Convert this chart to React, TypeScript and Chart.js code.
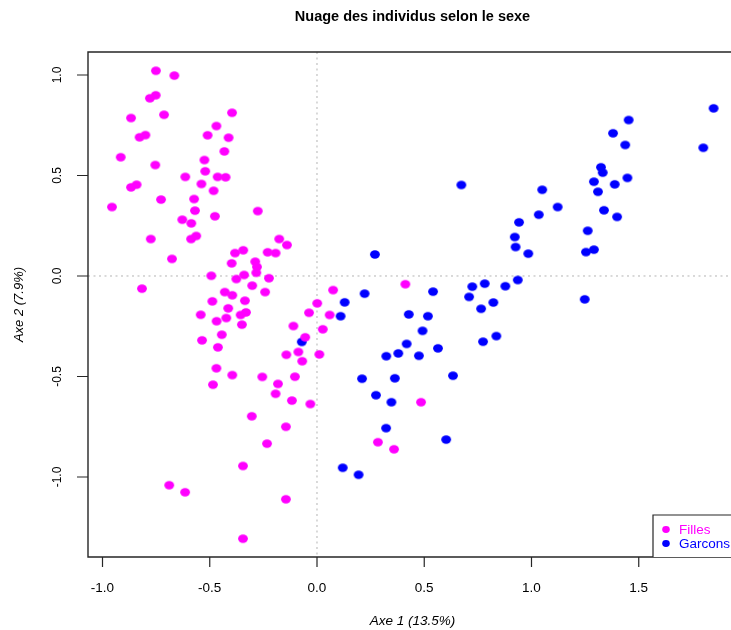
import React, { useEffect, useRef } from "react";
import { Chart, registerables } from "chart.js";
Chart.register(...registerables);

const chartTitle = "Nuage des individus selon le sexe";
const xAxisTitle = "Axe 1 (13.5%)";
const yAxisTitle = "Axe 2 (7.9%)";
const legendLabels = ["Filles", "Garcons"];
const xTicks = [-1.0, -0.5, 0.0, 0.5, 1.0, 1.5];
const xTickLabels = ["-1.0", "-0.5", "0.0", "0.5", "1.0", "1.5"];
const yTicks = [-1.0, -0.5, 0.0, 0.5, 1.0];
const yTickLabels = ["-1.0", "-0.5", "0.0", "0.5", "1.0"];

const fillesX = [
  -0.751, -0.665, -0.779, -0.752, -0.867, -0.713, -0.396, -0.469, -0.51, -0.412,
  -0.827, -0.8, -0.915, -0.432, -0.525, -0.754, -0.521, -0.614, -0.463, -0.426,
  -0.539, -0.867, -0.841, -0.482, -0.956, -0.727, -0.573, -0.569, -0.276, -0.476,
  -0.628, -0.586, -0.775, -0.587, -0.563, -0.176, -0.14, -0.676, -0.382, -0.344,
  -0.23, -0.193, -0.398, -0.288, -0.28, -0.283, -0.493, -0.34, -0.376, -0.224,
  -0.816, -0.302, -0.43, -0.395, -0.242,
  -0.488, -0.336, -0.414, -0.542, -0.468, -0.423, -0.356, -0.331, -0.35, -0.444,
  -0.536, -0.462, -0.469, -0.395, -0.485, -0.255, -0.182, -0.193, -0.103, -0.117,
  -0.031, -0.304, -0.145, -0.233, -0.345,
  0.075, 0.001, -0.037, 0.059, -0.11, 0.027, -0.055, -0.143, -0.087, -0.069, 0.011,
  0.412, 0.485, 0.284, 0.359,
  -0.689, -0.615, -0.145, -0.345,
];
const fillesY = [
  1.021, 0.997, 0.884, 0.899, 0.786, 0.802, 0.812, 0.746, 0.7, 0.688,
  0.69, 0.701, 0.591, 0.62, 0.577, 0.552, 0.521, 0.493, 0.493, 0.491,
  0.458, 0.441, 0.454, 0.424, 0.343, 0.38, 0.383, 0.325, 0.323, 0.297,
  0.28, 0.262, 0.184, 0.184, 0.199, 0.184, 0.154, 0.085, 0.114, 0.128,
  0.118, 0.114, 0.063, 0.071, 0.045, 0.016, 0.001, 0.005, -0.015, -0.011,
  -0.063, -0.048, -0.08, -0.096, -0.08,
  -0.126, -0.123, -0.161, -0.193, -0.225, -0.209, -0.194, -0.181, -0.242, -0.292,
  -0.32, -0.355, -0.459, -0.493, -0.541, -0.502, -0.537, -0.586, -0.501, -0.62,
  -0.637, -0.698, -0.75, -0.834, -0.945,
  -0.07, -0.136, -0.183, -0.194, -0.249, -0.265, -0.305, -0.392, -0.378, -0.424, -0.39,
  -0.041, -0.628, -0.827, -0.862,
  -1.041, -1.076, -1.111, -1.307,
];
const garconsX = [
  -0.071, 0.27, 0.222, 0.129, 0.11, 0.428, 0.517, 0.541, 0.492, 0.418,
  0.379, 0.323, 0.475, 0.21, 0.363, 0.275, 0.347, 0.322, 0.12, 0.194,
  0.774, 0.836, 0.564, 0.634, 0.602,
  1.849, 1.453, 1.38, 1.437, 1.801, 1.324, 1.332, 1.291, 1.388, 1.447,
  1.31, 0.673, 1.05, 1.122, 1.034, 0.942, 1.338, 1.399, 0.922, 0.926,
  0.985, 1.262, 1.254, 1.291, 0.936, 0.724, 0.782, 0.878, 0.709, 0.765,
  0.822, 1.248,
];
const garconsY = [
  -0.328, 0.107, -0.088, -0.131, -0.2, -0.191, -0.2, -0.078, -0.273, -0.338,
  -0.385, -0.399, -0.397, -0.511, -0.509, -0.593, -0.628, -0.757, -0.954, -0.989,
  -0.327, -0.299, -0.36, -0.496, -0.814,
  0.834, 0.776, 0.71, 0.652, 0.638, 0.541, 0.514, 0.469, 0.456, 0.488,
  0.419, 0.453, 0.429, 0.343, 0.305, 0.267, 0.327, 0.294, 0.194, 0.144,
  0.111, 0.225, 0.119, 0.131, -0.02, -0.053, -0.038, -0.051, -0.104, -0.163,
  -0.132, -0.116,
];

const MAGENTA = "#ff00ff";
const BLUE = "#0000ff";
const FONT = "'Liberation Sans', Arial, Helvetica, sans-serif";

function makeDot(color: string, w: number, h: number): HTMLCanvasElement {
  const c = document.createElement("canvas");
  c.width = Math.ceil(w) + 2;
  c.height = Math.ceil(h) + 2;
  const g = c.getContext("2d")!;
  g.fillStyle = color;
  g.beginPath();
  g.ellipse(c.width / 2, c.height / 2, w / 2, h / 2, 0, 0, Math.PI * 2);
  g.fill();
  return c;
}

const rPlot = {
  id: "rPlot",
  beforeDatasetsDraw(chart: any) {
    const { ctx, chartArea: a, scales } = chart;
    const x0 = scales.x.getPixelForValue(0);
    const y0 = scales.y.getPixelForValue(0);
    ctx.save();
    ctx.strokeStyle = "#b4b4b4";
    ctx.lineWidth = 1;
    ctx.setLineDash([2, 3.5]);
    ctx.beginPath();
    ctx.moveTo(x0, a.top);
    ctx.lineTo(x0, a.bottom);
    ctx.moveTo(a.left, y0);
    ctx.lineTo(a.right + 10, y0);
    ctx.stroke();
    ctx.restore();
  },
  afterDraw(chart: any) {
    const { ctx, chartArea: a, scales, width } = chart;
    ctx.save();
    // box
    ctx.strokeStyle = "#262626";
    ctx.lineWidth = 1.4;
    ctx.beginPath();
    ctx.moveTo(width + 2, a.top);
    ctx.lineTo(a.left, a.top);
    ctx.lineTo(a.left, a.bottom);
    ctx.lineTo(width + 2, a.bottom);
    ctx.stroke();
    // ticks
    ctx.lineWidth = 1.2;
    ctx.beginPath();
    xTicks.forEach((v) => {
      const px = scales.x.getPixelForValue(v);
      ctx.moveTo(px, a.bottom);
      ctx.lineTo(px, a.bottom + 10);
    });
    yTicks.forEach((v) => {
      const py = scales.y.getPixelForValue(v);
      ctx.moveTo(a.left, py);
      ctx.lineTo(a.left - 11, py);
    });
    ctx.stroke();
    // tick labels
    ctx.fillStyle = "#000";
    ctx.font = `13.5px ${FONT}`;
    ctx.textAlign = "center";
    ctx.textBaseline = "middle";
    xTicks.forEach((v, i) => {
      const px = scales.x.getPixelForValue(v);
      ctx.fillText(xTickLabels[i], px, a.bottom + 31);
    });
    yTicks.forEach((v, i) => {
      const py = scales.y.getPixelForValue(v);
      ctx.save();
      ctx.translate(a.left - 30, py);
      ctx.rotate(-Math.PI / 2);
      ctx.font = `12px ${FONT}`;
      ctx.fillText(yTickLabels[i], 0, 0);
      ctx.restore();
    });
    // title
    const cx = (a.left + 737) / 2;
    ctx.font = `bold 14.5px ${FONT}`;
    ctx.fillText(chartTitle, cx, 17);
    // axis titles
    ctx.font = `italic 13.5px ${FONT}`;
    ctx.fillText(xAxisTitle, cx, 621);
    ctx.save();
    ctx.translate(19, (a.top + a.bottom) / 2);
    ctx.rotate(-Math.PI / 2);
    ctx.font = `italic 13px ${FONT}`;
    ctx.fillText(yAxisTitle, 0, 0);
    ctx.restore();
    // legend
    const lx = 653;
    const ly = 515;
    ctx.fillStyle = "#fff";
    ctx.fillRect(lx, ly, width - lx + 5, a.bottom - ly);
    ctx.strokeStyle = "#262626";
    ctx.lineWidth = 1.2;
    ctx.beginPath();
    ctx.moveTo(width + 2, ly);
    ctx.lineTo(lx, ly);
    ctx.lineTo(lx, a.bottom);
    ctx.stroke();
    const colors = [MAGENTA, BLUE];
    ctx.textAlign = "left";
    ctx.font = `13.5px ${FONT}`;
    legendLabels.forEach((lab, i) => {
      const yy = ly + 14.5 + i * 14;
      ctx.fillStyle = colors[i];
      ctx.beginPath();
      ctx.ellipse(666, yy, 3.8, 3.4, 0, 0, Math.PI * 2);
      ctx.fill();
      ctx.fillText(lab, 679, yy + 0.5);
    });
    ctx.restore();
  },
};

export default function App() {
  const ref = useRef<HTMLCanvasElement | null>(null);
  useEffect(() => {
    if (!ref.current) return;
    const filles = fillesX.map((x, i) => ({ x, y: fillesY[i] }));
    const garcons = garconsX.map((x, i) => ({ x, y: garconsY[i] }));
    const dotF = makeDot(MAGENTA, 9.8, 8.4);
    const dotG = makeDot(BLUE, 9.8, 8.4);
    const chart = new Chart(ref.current, {
      type: "scatter",
      data: {
        datasets: [
          {
            label: legendLabels[0],
            data: filles,
            pointStyle: dotF as any,
            backgroundColor: MAGENTA,
            borderColor: MAGENTA,
            order: 0,
          },
          {
            label: legendLabels[1],
            data: garcons,
            pointStyle: dotG as any,
            backgroundColor: BLUE,
            borderColor: BLUE,
            order: 1,
          },
        ],
      },
      options: {
        responsive: false,
        animation: false,
        layout: { autoPadding: false, padding: { left: 88, top: 52, right: 0, bottom: 73 } },
        scales: {
          x: { type: "linear", min: -1.0676, max: 1.9301, display: false },
          y: { type: "linear", min: -1.398, max: 1.1144, display: false },
        },
        plugins: {
          legend: { display: false },
          title: { display: false },
          tooltip: { enabled: false },
        },
        events: [],
      },
      plugins: [rPlot],
    });
    return () => chart.destroy();
  }, []);
  return (
    <div style={{ position: "absolute", left: 0, top: 0, width: 731, height: 630, background: "#fff" }}>
      <canvas ref={ref} width={731} height={630} style={{ width: 731, height: 630, display: "block" }} />
    </div>
  );
}
